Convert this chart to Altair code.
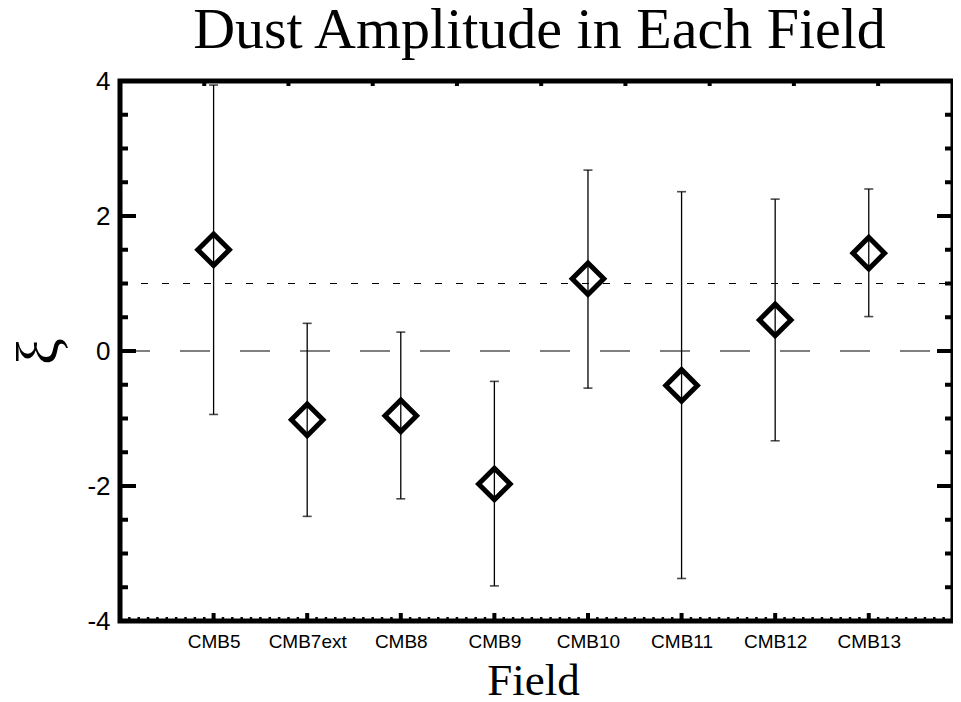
import altair as alt
import pandas as pd

# ---- data ----
fields = ["CMB5", "CMB7ext", "CMB8", "CMB9", "CMB10", "CMB11", "CMB12", "CMB13"]
xi_val = [1.50, -1.02, -0.96, -1.97, 1.07, -0.51, 0.46, 1.45]
xi_lo = [-0.94, -2.45, -2.19, -3.48, -0.55, -3.37, -1.33, 0.51]
xi_hi = [3.94, 0.41, 0.28, -0.45, 2.68, 2.36, 2.25, 2.40]
ref_zero = [0]
ref_one = [1]

# axis tick positions (data units)
y_major = [-4, -2, 0, 2, 4]
y_minor = [-3.5, -3, -2.5, -1.5, -1, -0.5, 0.5, 1, 1.5, 2.5, 3, 3.5]
x_major = [1, 2, 3, 4, 5, 6, 7, 8]
x_minor = [round(k * 0.1, 1) for k in range(1, 89)]
x_top = [round(k * 0.9, 1) for k in range(1, 10)]

W, H = 833, 540

df = pd.DataFrame({
    "idx": list(range(1, len(fields) + 1)),
    "field": fields,
    "xi": xi_val,
    "lo": xi_lo,
    "hi": xi_hi,
})

label_arr = "[''," + ",".join("'%s'" % f for f in fields) + "]"

xscale = alt.Scale(domain=[0, 8.9], nice=False, zero=False)
yscale = alt.Scale(domain=[-4, 4], nice=False, zero=False)

x_axis = alt.Axis(
    values=x_major, labelExpr=label_arr + "[datum.value]",
    ticks=False, domain=False, grid=False,
    labelFont="Liberation Sans", labelFontSize=19, labelColor="black",
    labelPadding=11,
    title="Field", titleFont="Liberation Serif", titleFontSize=45,
    titleFontWeight="normal", titleColor="black",
    titleX=413, titleY=73, titleBaseline="alphabetic",
)
y_axis = alt.Axis(
    values=y_major, labelExpr="'' + datum.value",
    ticks=False, domain=False, grid=False,
    labelFont="Liberation Sans", labelFontSize=26, labelColor="black",
    labelPadding=10,
    title="ξ", titleFont="Liberation Serif", titleFontSize=60,
    titleFontWeight="normal", titleColor="black",
    titleX=-81, titleY=270, titleBaseline="middle", titleAngle=-90,
)

base = alt.Chart(df)

bars = base.mark_rule(color="black", strokeWidth=1.3).encode(
    x=alt.X("idx:Q", scale=xscale, axis=x_axis),
    y=alt.Y("lo:Q", scale=yscale, axis=y_axis),
    y2="hi:Q",
)
cap_lo = base.mark_tick(color="black", orient="horizontal", size=9, thickness=1.6).encode(
    x=alt.X("idx:Q", scale=xscale),
    y=alt.Y("lo:Q", scale=yscale),
)
cap_hi = base.mark_tick(color="black", orient="horizontal", size=9, thickness=1.6).encode(
    x=alt.X("idx:Q", scale=xscale),
    y=alt.Y("hi:Q", scale=yscale),
)
pts = base.mark_point(shape="diamond", size=1000, filled=False, color="black",
                      strokeWidth=5, opacity=1, strokeJoin="miter").encode(
    x=alt.X("idx:Q", scale=xscale),
    y=alt.Y("xi:Q", scale=yscale),
)

zero_line = alt.Chart(pd.DataFrame({"r": ref_zero})).mark_rule(
    color="black", strokeWidth=1, strokeDash=[30, 30]
).encode(y=alt.Y("r:Q", scale=yscale), x=alt.value(0), x2=alt.value(W))
one_line = alt.Chart(pd.DataFrame({"r": ref_one})).mark_rule(
    color="black", strokeWidth=1, strokeDash=[7, 14]
).encode(y=alt.Y("r:Q", scale=yscale), x=alt.value(0), x2=alt.value(W))

def yticks(vals, x0, x1, sw):
    return alt.Chart(pd.DataFrame({"v": vals})).mark_rule(color="black", strokeWidth=sw).encode(
        y=alt.Y("v:Q", scale=yscale), x=alt.value(x0), x2=alt.value(x1))

def xticks(vals, y0, y1, sw):
    return alt.Chart(pd.DataFrame({"v": vals})).mark_rule(color="black", strokeWidth=sw).encode(
        x=alt.X("v:Q", scale=xscale), y=alt.value(y0), y2=alt.value(y1))

tick_layers = [
    yticks(y_major, 0, 16, 4),
    yticks(y_minor, 0, 8, 4),
    yticks(y_major, W, W - 16, 4),
    yticks(y_minor, W, W - 8, 4),
    xticks(x_major, H, H - 8, 4),
    xticks(x_minor, H, H - 4, 2.5),
    xticks(x_top, 0, 5, 4),
]

chart = alt.layer(
    bars, zero_line, one_line, cap_lo, cap_hi, pts, *tick_layers
).properties(
    width=W, height=H,
    title=alt.Title("Dust Amplitude in Each Field", font="Liberation Serif",
                    fontSize=58, fontWeight="normal", color="black",
                    anchor="middle", frame="group", offset=8, dx=3),
    autosize=alt.AutoSizeParams(type="none"),
    padding={"left": 112, "top": 73, "right": 0, "bottom": 81},
).configure_view(stroke="black", strokeWidth=5)

chart.save("out.html", embed_options={"renderer": "svg", "actions": False})
